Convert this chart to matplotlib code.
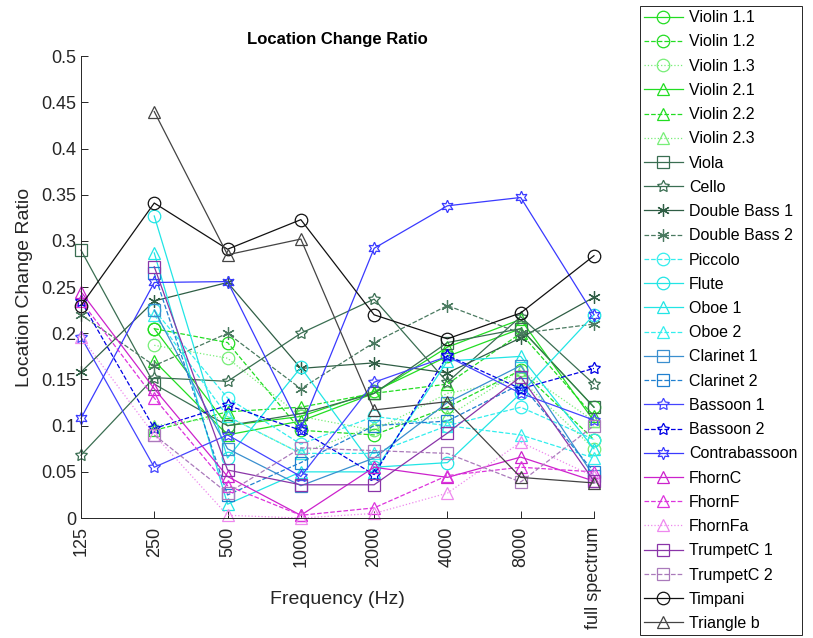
import numpy as np
import matplotlib.pyplot as plt

plt.rcParams["font.family"] = ["Liberation Sans", "DejaVu Sans"]

nan = np.nan
freq_labels = ["125", "250", "500", "1000", "2000", "4000", "8000", "full spectrum"]

violin_11 = [nan, 0.205, 0.100, 0.110, 0.137, 0.175, 0.205, 0.120]
violin_12 = [nan, 0.205, 0.190, 0.095, 0.090, 0.120, 0.160, 0.085]
violin_13 = [nan, 0.187, 0.173, 0.110, 0.095, 0.135, 0.150, 0.075]
violin_21 = [nan, 0.170, 0.090, 0.105, 0.135, 0.185, 0.215, 0.105]
violin_22 = [nan, 0.095, 0.115, 0.120, 0.135, 0.145, 0.200, 0.110]
violin_23 = [nan, 0.100, 0.110, 0.070, 0.100, 0.110, 0.160, 0.105]
viola = [0.290, 0.145, 0.100, 0.113, 0.135, 0.190, 0.205, 0.120]
cello = [0.068, 0.152, 0.148, 0.200, 0.237, 0.147, 0.218, 0.145]
double_bass_1 = [0.158, 0.235, 0.255, 0.162, 0.168, 0.157, 0.195, 0.239]
double_bass_2 = [0.220, 0.165, 0.200, 0.140, 0.190, 0.230, 0.200, 0.210]
piccolo = [nan, 0.225, 0.130, 0.080, 0.110, 0.100, 0.120, 0.085]
flute = [nan, 0.327, 0.065, 0.163, 0.055, 0.060, 0.135, 0.220]
oboe_1 = [nan, 0.287, 0.015, 0.050, 0.050, 0.170, 0.175, 0.075]
oboe_2 = [nan, 0.220, 0.110, 0.070, 0.070, 0.100, 0.090, 0.065]
clarinet_1 = [nan, 0.225, 0.075, 0.035, 0.065, 0.125, 0.165, 0.045]
clarinet_2 = [nan, 0.265, 0.025, 0.060, 0.100, 0.105, 0.145, 0.050]
bassoon_1 = [0.196, 0.055, 0.090, 0.045, 0.147, 0.175, 0.135, 0.106]
bassoon_2 = [0.235, 0.097, 0.122, 0.095, 0.047, 0.176, 0.140, 0.162]
contrabassoon = [0.108, 0.255, 0.256, 0.097, 0.292, 0.338, 0.347, 0.220]
fhorn_c = [0.245, 0.140, 0.045, 0.003, 0.055, 0.044, 0.066, 0.040]
fhorn_f = [0.235, 0.130, 0.035, 0.003, 0.011, 0.046, 0.055, 0.050]
fhorn_fa = [0.196, 0.090, 0.003, 0.000, 0.005, 0.027, 0.082, 0.045]
trumpet_c1 = [nan, 0.272, 0.052, 0.036, 0.036, 0.092, 0.153, 0.040]
trumpet_c2 = [nan, 0.090, 0.027, 0.076, 0.073, 0.070, 0.039, 0.100]
timpani = [0.230, 0.341, 0.291, 0.323, 0.220, 0.194, 0.222, 0.284]
triangle_b = [nan, 0.440, 0.285, 0.302, 0.117, 0.126, 0.044, 0.038]

pent = (5, 1, 0)
hexa = (6, 1, 0)
aster = (6, 2, 0)

# name, values, colour, linestyle, marker
series = [
    ("Violin 1.1", violin_11, "#22dd22", "-", "o"),
    ("Violin 1.2", violin_12, "#22dd22", "--", "o"),
    ("Violin 1.3", violin_13, "#77ee77", ":", "o"),
    ("Violin 2.1", violin_21, "#22dd22", "-", "^"),
    ("Violin 2.2", violin_22, "#22dd22", "--", "^"),
    ("Violin 2.3", violin_23, "#77ee77", ":", "^"),
    ("Viola", viola, "#3a6e52", "-", "s"),
    ("Cello", cello, "#3a6e52", "-", pent),
    ("Double Bass 1", double_bass_1, "#2f5e45", "-", aster),
    ("Double Bass 2", double_bass_2, "#4a7a60", "--", aster),
    ("Piccolo", piccolo, "#33eeee", "--", "o"),
    ("Flute", flute, "#22e5e5", "-", "o"),
    ("Oboe 1", oboe_1, "#22e5e5", "-", "^"),
    ("Oboe 2", oboe_2, "#33eeee", "--", "^"),
    ("Clarinet 1", clarinet_1, "#3a8fcf", "-", "s"),
    ("Clarinet 2", clarinet_2, "#2080d0", "--", "s"),
    ("Bassoon 1", bassoon_1, "#4444ff", "-", pent),
    ("Bassoon 2", bassoon_2, "#0000e6", "--", pent),
    ("Contrabassoon", contrabassoon, "#3a3aff", "-", hexa),
    ("FhornC", fhorn_c, "#cc22cc", "-", "^"),
    ("FhornF", fhorn_f, "#dd33dd", "--", "^"),
    ("FhornFa", fhorn_fa, "#ee88ee", ":", "^"),
    ("TrumpetC 1", trumpet_c1, "#8a35a8", "-", "s"),
    ("TrumpetC 2", trumpet_c2, "#aa7abb", "--", "s"),
    ("Timpani", timpani, "#111111", "-", "o"),
    ("Triangle b", triangle_b, "#444444", "-", "^"),
]

fig = plt.figure(figsize=(8.13, 6.38), dpi=100)
ax = fig.add_axes([0.0996, 0.188, 0.631, 0.724])

x = np.arange(1, len(freq_labels) + 1)
for name, vals, col, ls, mk in series:
    ax.plot(x, vals, color=col, linestyle=ls, marker=mk, markersize=9,
            fillstyle="none", markeredgewidth=0.9, linewidth=0.9, label=name,
            clip_on=False)

ax.set_xlim(1, 8)
ax.set_ylim(0, 0.5)
ax.set_xticks(x)
ax.set_xticklabels(freq_labels, rotation=90, fontsize=13, color="#262626")
yt = np.arange(0, 0.501, 0.05)
ax.set_yticks(yt)
ax.set_yticklabels(["0"] + [f"{v:g}" for v in yt[1:]], fontsize=13, color="#262626")
ax.tick_params(direction="in", length=5, width=0.7, colors="#262626")
ax.tick_params(axis="x", pad=6)
ax.spines["top"].set_visible(False)
ax.spines["right"].set_visible(False)
for s in ["left", "bottom"]:
    ax.spines[s].set_color("#262626")
    ax.spines[s].set_linewidth(0.7)

fig.text(337 / 813, 1 - 600 / 638, "Frequency (Hz)", fontsize=14,
         color="#262626", ha="center", va="center")
ax.set_ylabel("Location Change Ratio", fontsize=14, color="#262626", labelpad=6)
ax.set_title("Location Change Ratio", fontsize=12, fontweight="bold", pad=9)

leg = fig.legend(loc="upper left", bbox_to_anchor=(0.787, 0.991), fontsize=11.5,
                 labelspacing=0.578, handlelength=2.4, handletextpad=0.4,
                 borderaxespad=0, borderpad=0.28, fancybox=False, framealpha=1)
leg.get_frame().set_edgecolor("#262626")
leg.get_frame().set_linewidth(0.7)

fig.savefig("out.png", dpi=100)
